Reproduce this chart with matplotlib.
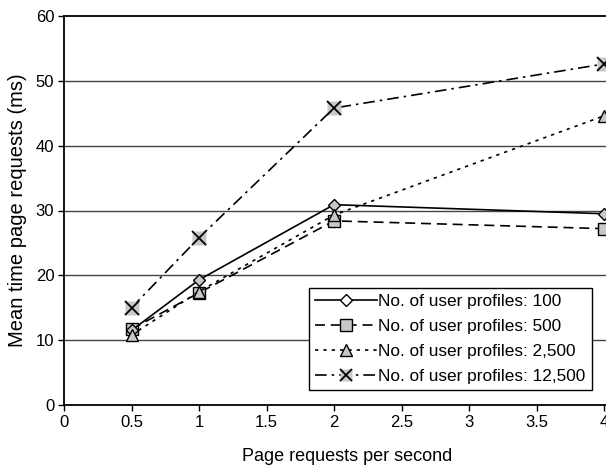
import matplotlib
matplotlib.use("Agg")
import matplotlib.pyplot as plt
from matplotlib.lines import Line2D

plt.rcParams['font.family'] = ['Liberation Sans', 'DejaVu Sans']

# data
rates = [0.5, 1, 2, 4]
t_100 = [11.5, 19.3, 30.9, 29.5]
t_500 = [11.7, 17.3, 28.4, 27.2]
t_2500 = [10.8, 17.5, 29.3, 44.6]
t_12500 = [15.0, 25.8, 45.8, 52.6]
labels = ["No. of user profiles: 100", "No. of user profiles: 500",
          "No. of user profiles: 2,500", "No. of user profiles: 12,500"]
xticks = [0, 0.5, 1, 1.5, 2, 2.5, 3, 3.5, 4]
yticks = [0, 10, 20, 30, 40, 50, 60]

fig = plt.figure(figsize=(6.06, 4.67), dpi=100)
ax = fig.add_axes([64/606, 62/467, 567/606, 389/467])

gray = '#c8c8c8'
ax.plot(rates, t_100, color='k', lw=1.2, ls='-', marker='D', ms=6.5,
        mfc=gray, mec='k', mew=1, clip_on=False, zorder=5)
ax.plot(rates, t_500, color='k', lw=1.2, ls=(0, (6, 3.5)), marker='s', ms=9,
        mfc=gray, mec='k', mew=1, clip_on=False, zorder=4)
ax.plot(rates, t_2500, color='k', lw=1.2, ls=(0, (2, 3)), marker='^', ms=9,
        mfc=gray, mec='k', mew=1, clip_on=False, zorder=6)
ax.plot(rates, t_12500, color='k', lw=1.2, ls=(0, (7, 3, 1.5, 3)),
        clip_on=False, zorder=3)
ax.plot(rates, t_12500, ls='none', marker='s', ms=10, mfc=gray, mec='none',
        clip_on=False, zorder=3)
ax.plot(rates, t_12500, ls='none', marker='x', ms=10, mec='k', mew=1.3,
        clip_on=False, zorder=3)

for y in yticks[1:-1]:
    ax.axhline(y, color='#444444', lw=1, zorder=1)

ax.set_xlim(0, 4.2)
ax.set_ylim(0, 60)
ax.set_xticks(xticks)
ax.set_xticklabels([f"{v:g}" for v in xticks])
ax.set_yticks(yticks)
ax.tick_params(direction='out', length=4, width=1, labelsize=12, pad=3)
for s in ['left', 'top', 'bottom']:
    ax.spines[s].set_linewidth(1.3)
ax.spines['right'].set_visible(False)

ax.set_xlabel("Page requests per second", fontsize=13, labelpad=13)
ax.set_ylabel("Mean time page requests (ms)", fontsize=14.5, labelpad=6)

h1 = Line2D([], [], color='k', lw=1.2, marker='D', ms=6, mfc='white', mec='k')
h2 = Line2D([], [], color='k', lw=1.2, ls=(0, (6, 3.5)), marker='s', ms=8,
            mfc=gray, mec='k')
h3 = Line2D([], [], color='k', lw=1.2, ls=(0, (2, 3)), marker='^', ms=8,
            mfc=gray, mec='k')
h4a = Line2D([], [], color='k', lw=1.2, ls=(0, (7, 3, 1.5, 3)))
h4b = Line2D([], [], ls='none', marker='s', ms=9, mfc=gray, mec='none')
h4c = Line2D([], [], ls='none', marker='x', ms=9, mec='k', mew=1.3)
leg = ax.legend([h1, h2, h3, (h4a, h4b, h4c)], labels, loc='lower left',
                bbox_to_anchor=(245/567, 15/389), fontsize=12.4,
                handlelength=3.6, handletextpad=0.08, labelspacing=0.58,
                borderpad=0.35, borderaxespad=0, fancybox=False,
                framealpha=1, edgecolor='k')
leg.get_frame().set_linewidth(1)
leg.set_zorder(10)

fig.savefig("out.png", dpi=100)
